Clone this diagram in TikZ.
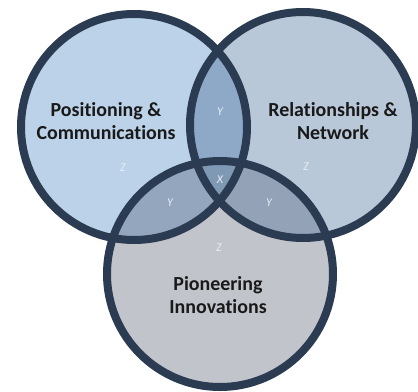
\documentclass[tikz,border=0pt]{standalone}
\usepackage{fontspec}
\setmainfont[Ligatures={NoCommon}]{Carlito}
\begin{document}
\begin{tikzpicture}[x=1bp,y=-1bp,
  ring/.style={draw=ringcol,line width=8bp},
  title/.style={font=\fontsize{20}{23}\selectfont\bfseries,text=black!90,align=center,inner sep=0pt},
  tag/.style={font=\fontsize{12}{13}\selectfont\itshape,text=tagcol,inner sep=0pt}]
\definecolor{ringcol}{HTML}{2A3B52}
\definecolor{colL}{HTML}{BCD2E8}
\definecolor{colR}{HTML}{B9C8D9}
\definecolor{colB}{HTML}{C2C4CB}
\definecolor{colLR}{HTML}{8EA9C7}
\definecolor{colLB}{HTML}{94A6BD}
\definecolor{colRB}{HTML}{93A2B6}
\definecolor{colX}{HTML}{7F98B4}
\definecolor{tagcol}{HTML}{E6EDF4}
\useasboundingbox[fill=white] (0,0) rectangle (418,392);
\coordinate (cL) at (134,127);
\coordinate (cR) at (303,125);
\coordinate (cB) at (220,274);
\def\rr{113bp}
\fill[colL] (cL) circle[radius=\rr];
\fill[colR] (cR) circle[radius=\rr];
\fill[colB] (cB) circle[radius=\rr];
\begin{scope}
  \clip (cL) circle[radius=\rr];
  \fill[colLR] (cR) circle[radius=\rr];
  \fill[colLB] (cB) circle[radius=\rr];
\end{scope}
\begin{scope}
  \clip (cR) circle[radius=\rr];
  \fill[colRB] (cB) circle[radius=\rr];
\end{scope}
\begin{scope}
  \clip (cL) circle[radius=\rr];
  \clip (cR) circle[radius=\rr];
  \fill[colX] (cB) circle[radius=\rr];
\end{scope}
\draw[ring] (cL) circle[radius=\rr];
\draw[ring] (cR) circle[radius=\rr];
\draw[ring] (cB) circle[radius=\rr];
\node[title] (tL) at (106,121) {Positioning \&\\Communications};
\node[title] (tR) at (333,121) {Relationships \&\\Network};
\node[title] (tB) at (218,295) {Pioneering\\Innovations};
\node[tag] (yLR) at (220,112) {Y};
\node[tag] (zL) at (123,168) {Z};
\node[tag] (zR) at (306,167) {Z};
\node[tag] (xC) at (220,180) {X};
\node[tag] (yLB) at (170,203) {Y};
\node[tag] (yRB) at (269,203) {Y};
\node[tag] (zB) at (219,248) {Z};
\end{tikzpicture}
\end{document}
